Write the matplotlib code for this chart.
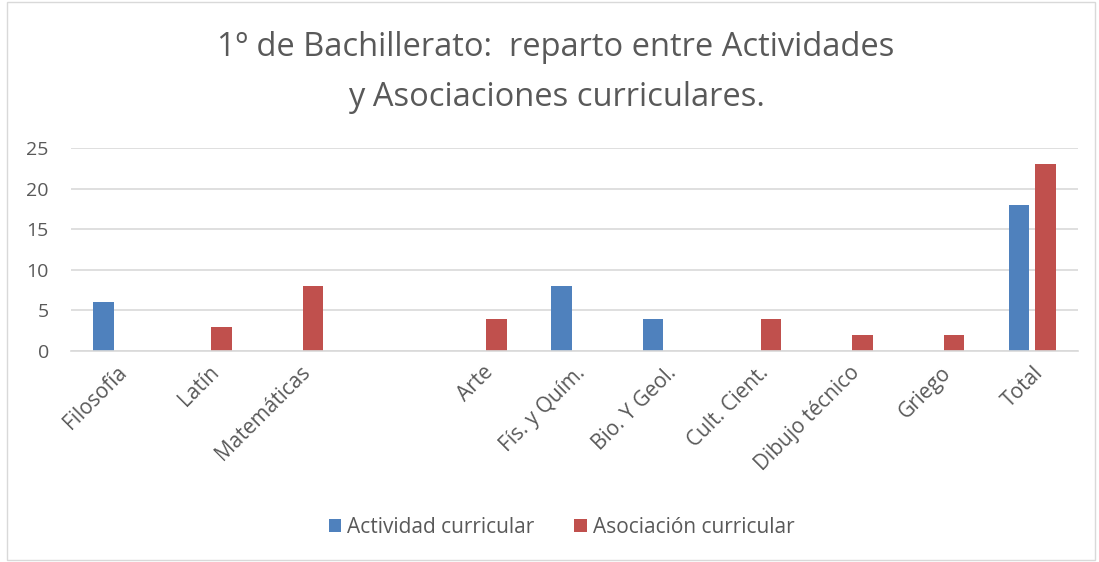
import numpy as np
import matplotlib.pyplot as plt
from matplotlib.patches import Rectangle

plt.rcParams['font.family'] = ['Open Sans', 'DejaVu Sans']

categorias = ['Filosofía', 'Latín', 'Matemáticas', '', 'Arte', 'Fís. y Quím.',
              'Bio. Y Geol.', 'Cult. Cient.', 'Dibujo técnico', 'Griego', 'Total']
actividad = [6, 0, 0, 0, 0, 8, 4, 0, 0, 0, 18]
asociacion = [0, 3, 8, 0, 4, 0, 0, 4, 2, 2, 23]

azul = '#4F81BD'
rojo = '#C0504D'
gris = '#D9D9D9'
texto = '#595959'

fig = plt.figure(figsize=(10.99, 5.62), dpi=100)
ax = fig.add_axes([0.0646, 0.3754, 0.9164, 0.3613])

x = np.arange(len(categorias))
w = 0.225
ax.bar(x - 0.145, actividad, w, color=azul, label='Actividad curricular')
ax.bar(x + 0.145, asociacion, w, color=rojo, label='Asociación curricular')

ax.set_xlim(-0.5, len(categorias) - 0.5)
ax.set_ylim(0, 25)
ax.set_yticks([0, 5, 10, 15, 20, 25])
ax.yaxis.grid(True, color=gris, lw=1.2)
ax.set_axisbelow(True)
for s in ['top', 'right', 'left']:
    ax.spines[s].set_visible(False)
ax.spines['bottom'].set_color(gris)
ax.spines['bottom'].set_linewidth(1.2)
ax.tick_params(axis='y', length=0, labelsize=14, colors=texto, pad=16)

ax.set_xticks(x)
ax.set_xticklabels(categorias, rotation=45, ha='right', va='top', rotation_mode='anchor')
ax.tick_params(axis='x', length=0, labelsize=15, colors=texto, pad=8)

fig.text(0.506, 0.915, '1º de Bachillerato:  reparto entre Actividades', ha='center', va='center',
         fontsize=23.5, color=texto)
fig.text(0.506, 0.827, 'y Asociaciones curriculares.', ha='center', va='center',
         fontsize=23.5, color=texto)

fig.legend(loc='center', bbox_to_anchor=(0.511, 0.062), ncol=2, frameon=False,
           fontsize=15, handlelength=0.6, handleheight=0.6, handletextpad=0.3,
           columnspacing=1.9, labelcolor=texto)

fig.patches.append(Rectangle((0.006, 0.003), 0.99, 0.994, transform=fig.transFigure,
                             fill=False, edgecolor=gris, lw=1))

fig.savefig('out.png', dpi=100)
